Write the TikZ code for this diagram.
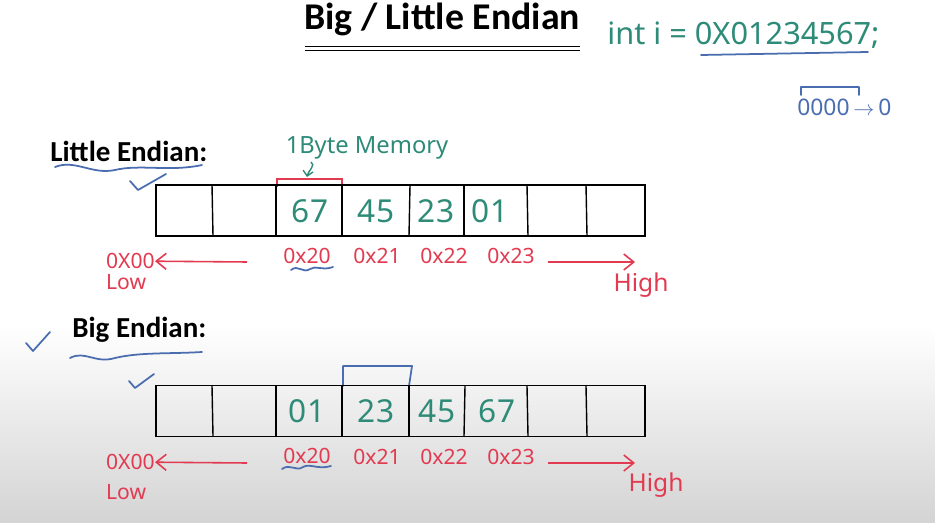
\documentclass[tikz,border=0pt]{standalone}
\usepackage{fontspec}
\setmainfont{Carlito}
\newfontfamily\handfont{Noto Sans}
\usepackage{xcolor}
\usetikzlibrary{arrows.meta,positioning,calc}
\definecolor{inkteal}{HTML}{2E8B78}
\definecolor{inkred}{HTML}{E23A50}
\definecolor{inkblue}{HTML}{4A6DB0}

\begin{document}
\begin{tikzpicture}[
  x=0.02cm, y=-0.02cm,
  >={Straight Barb[length=2mm,width=3.2mm]},
  heading/.style={font=\bfseries\fontsize{16.5}{19}\selectfont, inner sep=0pt},
  byteval/.style={font=\handfont\fontsize{18}{22}\selectfont, text=inkteal, inner sep=0pt},
  addr/.style={font=\handfont\fontsize{12}{14}\selectfont, text=inkred, inner sep=0pt},
  memrow/.style={draw, line width=1pt, minimum width=9.78cm, minimum height=1.02cm, inner sep=0pt},
  cellsep/.style={line width=0.8pt},
  redarr/.style={->, inkred, line width=0.9pt},
  scribble/.style={inkblue, line width=1pt, line cap=round, line join=round}
]
% background
\fill[white] (0,0) rectangle (935,523);
\shade[top color=white, bottom color=black!17] (0,325) rectangle (935,523);
\useasboundingbox (0,0) rectangle (935,523);

% title and the value
\node[font=\bfseries\fontsize{21.5}{24}\selectfont, inner sep=0pt] (title) at (442,19) {Big / Little Endian};
\draw[line width=0.8pt] (305,46.5) -- (580,46.5);
\draw[line width=0.8pt] (305,50.5) -- (580,50.5);
\node[font=\handfont\fontsize{17.5}{20}\selectfont, text=inkteal, anchor=west, inner sep=0pt]
  (decl) at (607,35) {int i = 0X01234567;};
\draw[scribble] (701,55) -- (868,52);
\node[font=\handfont\fontsize{13}{15}\selectfont, text=inkblue, anchor=west, inner sep=0pt]
  (bits) at (797,107) {0000\,$\rightarrow$\,0};
\draw[scribble] (801,95) -- (801,87) -- (859,87) -- (859,95);

% Little endian
\node[heading, anchor=west] (little) at (50,151) {Little Endian:};
\draw[scribble] (55,167) .. controls (75,159) and (92,175) .. (115,170)
  .. controls (140,164) and (170,172) .. (202,165);
\draw[scribble] (130,181) -- (138,190) -- (166,174);
\node[font=\handfont\fontsize{13.5}{15}\selectfont, text=inkteal, inner sep=0pt]
  (membyte) at (367,148) {1Byte Memory};
\draw[inkteal, line width=0.8pt, -{Straight Barb[length=1mm]}] (311,162) to[out=-30,in=80] (307,177);
\draw[inkred, line width=0.9pt] (277,187) -- (277,179) -- (342,179) -- (342,187);

\node[memrow] (lrow) at (400.5,210.5) {};
\draw[cellsep] (212,185) -- (213,236);
\draw[cellsep] (276,185) -- (276,236);
\draw[cellsep] (342,185) -- (342,236);
\draw[cellsep] (410,185) -- (409,236);
\draw[cellsep] (464,185) -- (464,236);
\draw[cellsep] (527,185) -- (528,236);
\draw[cellsep] (586,185) -- (587,236);
\node[byteval] (l67) at (310,211) {67};
\node[byteval] (l45) at (376,211) {45};
\node[byteval] (l23) at (436,211) {23};
\node[byteval] (l01) at (490,211) {01};

\node[addr] (la20) at (307,256) {0x20};
\node[addr] (la21) at (377,256) {0x21};
\node[addr] (la22) at (444,256) {0x22};
\node[addr] (la23) at (511,256) {0x23};
\draw[scribble] (291,270) .. controls (298,264) and (303,274) .. (310,269)
  .. controls (316,265) and (322,271) .. (333,267);
\node[addr, anchor=east] (llow) at (155,261) {0X00};
\node[addr, anchor=north west] at (llow.south west) [yshift=-3pt] (llowtxt) {Low};
\node[addr, font=\handfont\fontsize{14}{16}\selectfont] (lhigh) at (641,285) {High};
\coordinate (lleft) at (247,262);
\coordinate (lright) at (548,262);
\coordinate (lend) at (635,262);
\draw[redarr] (lleft) -- (llow);
\draw[redarr] (lright) -- (lend);

% Big endian
\node[heading, anchor=west] (big) at (72,330) {Big Endian:};
\draw[scribble] (26,343) -- (33,351) -- (50,332);
\draw[scribble] (70,358) .. controls (85,350) and (95,364) .. (115,358)
  .. controls (140,352) and (170,354) .. (202,352);
\draw[scribble] (129,381) -- (135,388) -- (154,374);
\draw[scribble] (343,386) -- (343,366) -- (412,366) -- (409,386);

\node[memrow] (brow) at (400.5,411) {};
\draw[cellsep] (212,386) -- (213,436);
\draw[cellsep] (276,386) -- (276,436);
\draw[cellsep] (342,386) -- (342,436);
\draw[cellsep] (409,386) -- (409,436);
\draw[cellsep] (465,386) -- (464,436);
\draw[cellsep] (527,386) -- (528,436);
\draw[cellsep] (586,386) -- (587,436);
\node[byteval] (b01) at (307,411) {01};
\node[byteval] (b23) at (376,411) {23};
\node[byteval] (b45) at (437,411) {45};
\node[byteval] (b67) at (497,411) {67};

\node[addr] (ba20) at (307,456) {0x20};
\node[addr] (ba21) at (377,457) {0x21};
\node[addr] (ba22) at (444,457) {0x22};
\node[addr] (ba23) at (511,457) {0x23};
\draw[scribble] (282,469) .. controls (290,463) and (296,472) .. (303,467)
  .. controls (310,463) and (318,470) .. (331,466);
\node[addr, anchor=east] (blow) at (155,462) {0X00};
\node[addr, anchor=north west] at (blow.south west) [yshift=-8pt] (blowtxt) {Low};
\node[addr, font=\handfont\fontsize{14}{16}\selectfont] (bhigh) at (656,485) {High};
\coordinate (bleft) at (247,463);
\coordinate (bright) at (548,463);
\coordinate (bend) at (635,463);
\draw[redarr] (bleft) -- (blow);
\draw[redarr] (bright) -- (bend);
\end{tikzpicture}
\end{document}
